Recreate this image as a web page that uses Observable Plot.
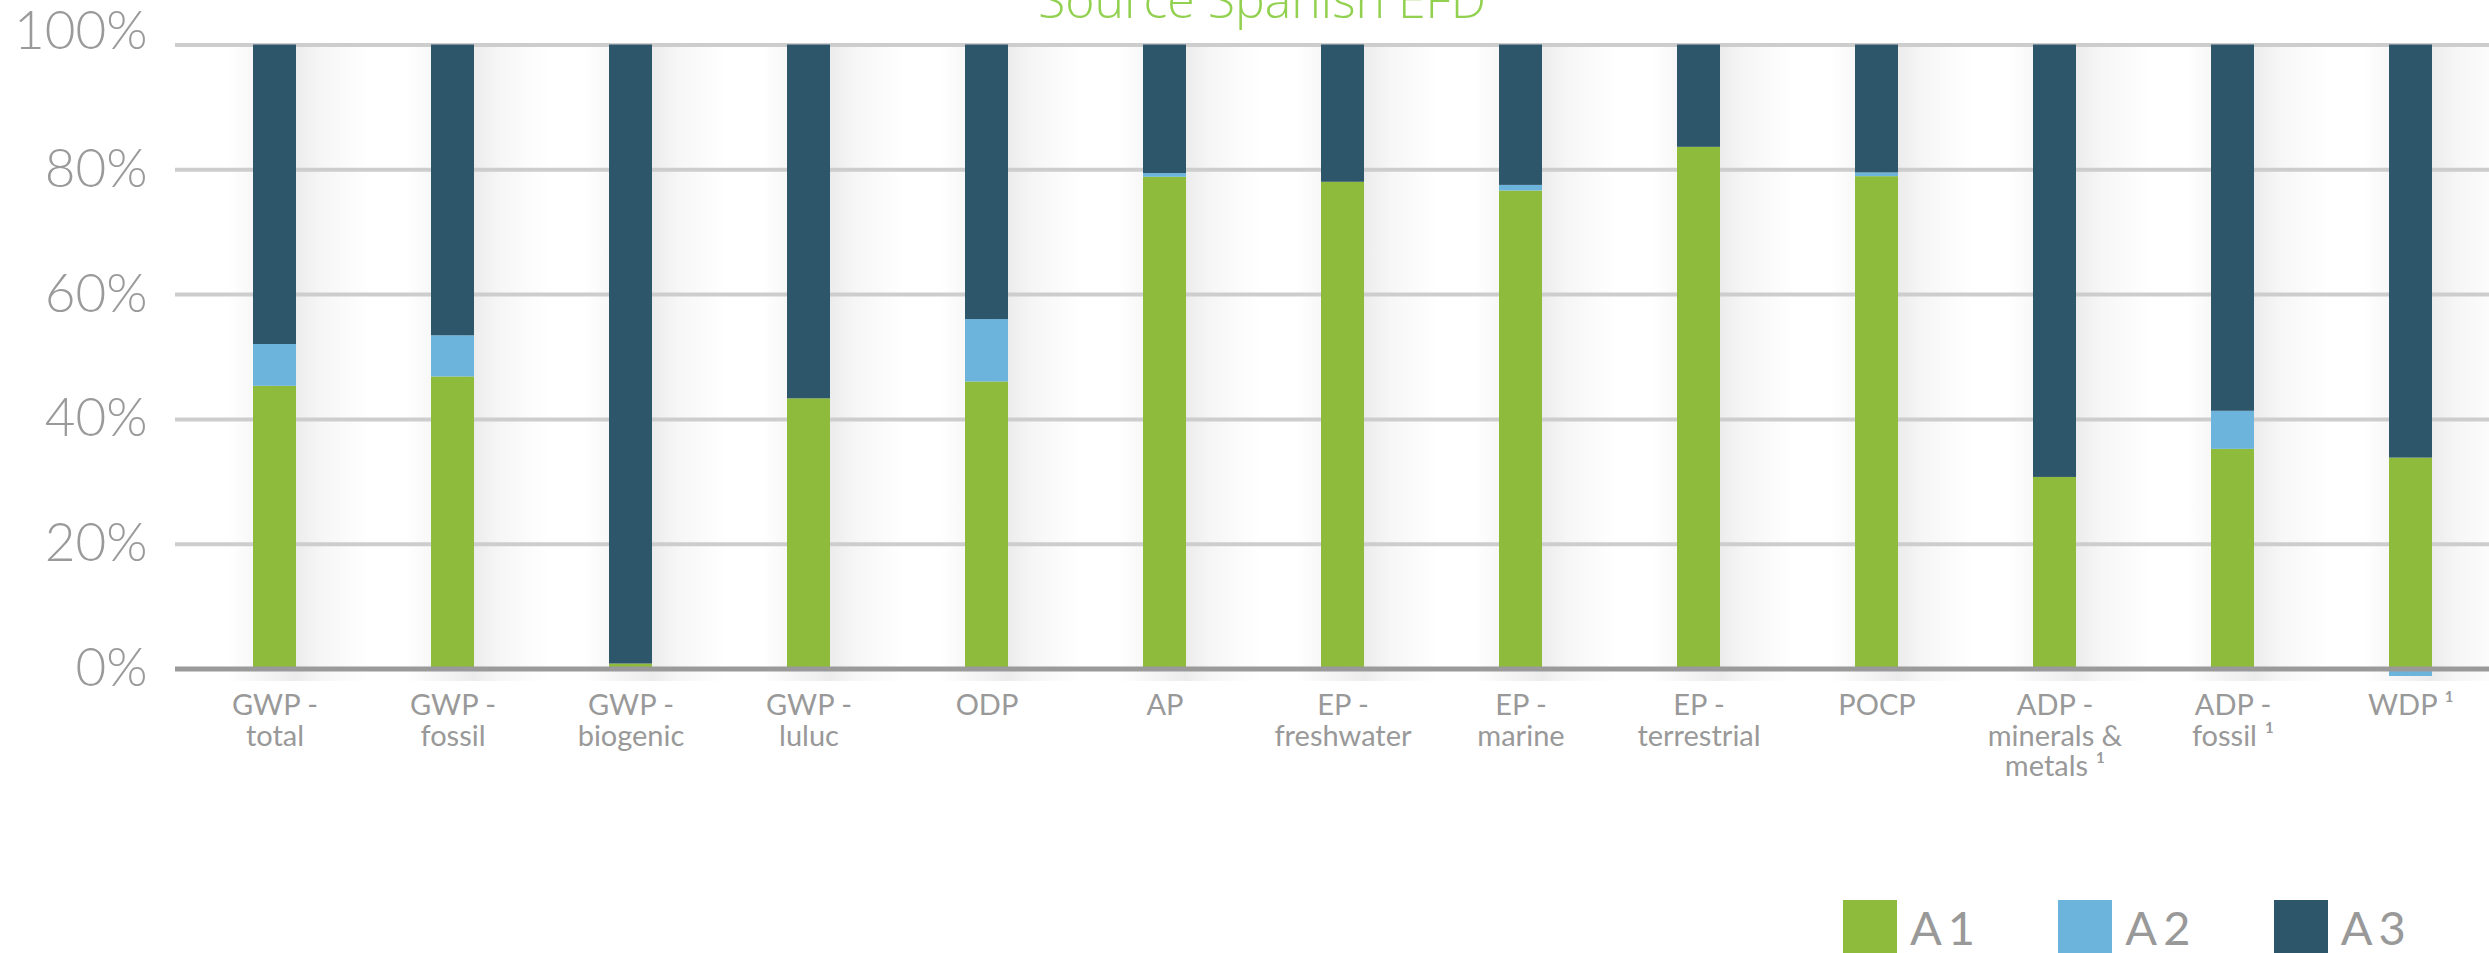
<!DOCTYPE html>
<html>
<head>
<meta charset="utf-8">
<script src="https://cdn.jsdelivr.net/npm/d3@7"></script>
<script src="https://cdn.jsdelivr.net/npm/@observablehq/plot@0.6"></script>
<style>
  html, body { margin: 0; padding: 0; background: #fff; overflow: hidden; }
  body { width: 2489px; height: 953px; font-family: Lato, sans-serif; }
  #title { position: relative; height: 0; overflow: visible; }
  #title div { position: absolute; left: 0; width: 2524px; top: -26px; text-align: center;
    font: 300 50px/50px "Open Sans", sans-serif; color: #92D050; white-space: nowrap; }
  #chart svg { display: block; }
  #legend { display: flex; padding-left: 1843px; margin-top: 40px; }
  .item { display: flex; align-items: flex-start; width: 217px; }
  .sw { width: 54px; height: 54px; flex: none; }
  .lab { margin-left: 13px; font: 400 47px/54px Lato, sans-serif; color: #999; letter-spacing: 6px; }
</style>
</head>
<body>
<div id="title"><div>Source Spanish EFD</div></div>
<div id="chart"></div>
<div id="legend"></div>
<script>
// ---- data ----
const categories = [
  "GWP -\ntotal", "GWP -\nfossil", "GWP -\nbiogenic", "GWP -\nluluc", "ODP", "AP",
  "EP -\nfreshwater", "EP -\nmarine", "EP -\nterrestrial", "POCP",
  "ADP -\nminerals &\nmetals ¹", "ADP -\nfossil ¹", "WDP ¹"
];
const seriesNames = ["A1", "A2", "A3"];
const seriesColors = ["#8EBB3B", "#6CB4DC", "#2D566B"];
const a1 = [45.3, 46.8, 0.8, 43.3, 46.0, 78.8, 78.0, 76.6, 83.6, 78.9, 30.7, 35.2, 33.8];
const a2 = [6.7, 6.6, 0, 0, 10.0, 0.6, 0, 0.9, 0, 0.6, 0, 6.1, -1.2];
const a3 = [48.0, 46.6, 99.2, 56.7, 44.0, 20.6, 22.0, 22.5, 16.4, 20.5, 69.3, 58.7, 66.2];
const yTicks = [0, 20, 40, 60, 80];
const yTopTick = [100];

// long table built from the arrays
const rows = [];
categories.forEach((c, i) => {
  rows.push({cat: c, series: "A1", value: a1[i]});
  rows.push({cat: c, series: "A2", value: a2[i]});
  rows.push({cat: c, series: "A3", value: a3[i]});
});

const chart = Plot.plot({
  width: 2489,
  height: 860,
  marginTop: 44.5,
  marginBottom: 191.5,
  marginLeft: 175,
  marginRight: 0,
  style: {fontFamily: "Lato, sans-serif", background: "white", overflow: "visible"},
  x: {type: "band", domain: categories, paddingInner: 0.759, paddingOuter: 0.3685, align: 0.575, axis: null, label: null},
  y: {domain: [0, 100], axis: null, label: null},
  color: {domain: seriesNames, range: seriesColors},
  marks: [
    // soft shadow behind each bar
    Plot.barY(categories, {x: d => d, y1: -2, y2: 100, fill: "url(#barShadow)", insetLeft: -25, insetRight: -75}),
    Plot.ruleY([20, 40, 60, 80, 100], {stroke: "#cdcdcd", strokeWidth: 4}),
    Plot.barY(rows, {x: "cat", y: "value", fill: "series", order: seriesNames}),
    Plot.ruleY([0], {stroke: "#9a9a9a", strokeWidth: 5}),
    Plot.axisY(yTicks, {label: null, tickSize: 0, tickPadding: 28, fontSize: 53, fontWeight: 300, fill: "#9a9a9a", tickFormat: d => d + "%"}),
    Plot.axisY(yTopTick, {label: null, tickSize: 0, tickPadding: 28, fontSize: 53, fontWeight: 300, fill: "#9a9a9a", dy: -13, tickFormat: d => d + "%"}),
    Plot.axisX({label: null, tickSize: 0, tickPadding: 25, fontSize: 29, lineHeight: 1.04, fill: "#999", tickFormat: d => d})
  ]
});

// gradient definition for the bar shadows
const ns = "http://www.w3.org/2000/svg";
const defs = document.createElementNS(ns, "defs");
defs.innerHTML = `
  <linearGradient id="barShadow" x1="0" x2="1" y1="0" y2="0">
    <stop offset="0" stop-color="#000" stop-opacity="0"/>
    <stop offset="0.175" stop-color="#000" stop-opacity="0.03"/>
    <stop offset="0.476" stop-color="#000" stop-opacity="0.075"/>
    <stop offset="0.65" stop-color="#000" stop-opacity="0.035"/>
    <stop offset="1" stop-color="#000" stop-opacity="0"/>
  </linearGradient>`;
chart.insertBefore(defs, chart.firstChild);
document.getElementById("chart").appendChild(chart);

// legend
const legend = document.getElementById("legend");
seriesNames.forEach((s, i) => {
  const item = document.createElement("div");
  item.className = "item";
  const sw = document.createElement("div");
  sw.className = "sw";
  sw.style.background = seriesColors[i];
  const lab = document.createElement("div");
  lab.className = "lab";
  lab.textContent = s;
  item.appendChild(sw);
  item.appendChild(lab);
  legend.appendChild(item);
});
</script>
</body>
</html>
